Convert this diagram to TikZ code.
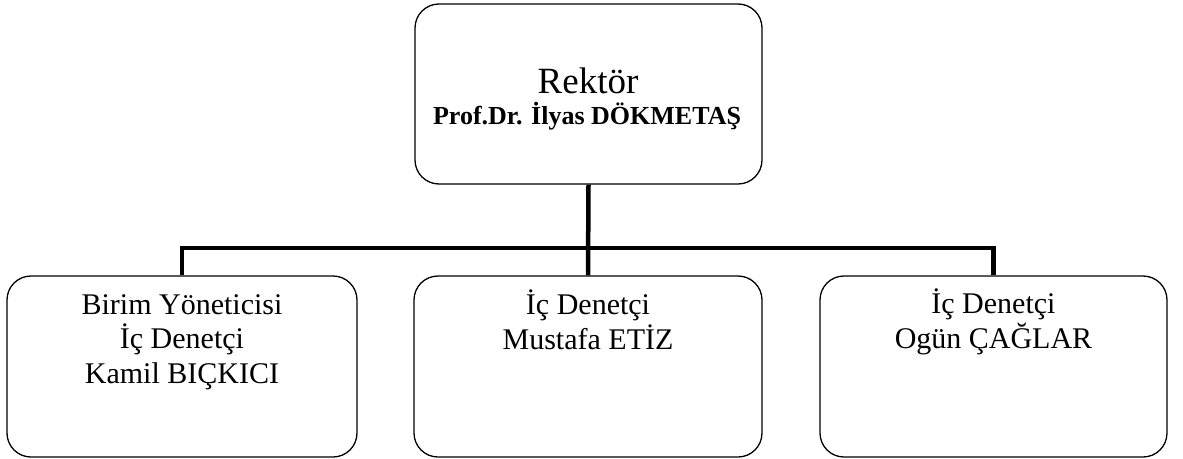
\documentclass[tikz,border=0pt]{standalone}
\usepackage{fontspec}
\setmainfont{Liberation Serif}
\begin{document}
\begin{tikzpicture}[
    x=1pt, y=-1pt,
    unitbox/.style={rectangle, draw, rounded corners=24pt, line width=1.3pt, minimum width=348pt, minimum height=181pt, inner sep=0pt},
    unittext/.style={align=center, inner sep=0pt, anchor=base, font=\fontsize{30}{34.5}\selectfont},
    branch/.style={line width=4.5pt}
]
\useasboundingbox (0,0) rectangle (1183,458);
% boxes
\node[unitbox, minimum height=180pt, minimum width=347pt] (rektor) at (588.5,94) {};
\node[unitbox, minimum width=350pt] (birim) at (182,366.5) {};
\node[unitbox] (etiz) at (588,366.5) {};
\node[unitbox, minimum width=347pt] (ogun) at (993.5,366.5) {};
% texts (base = last line)
\node[unittext, font=\fontsize{37}{37}\selectfont] (rektortitle) at (588,93) {Rektör};
\node[unittext, font=\fontsize{26}{26}\selectfont\bfseries] (rektorname) at (587,124) {Prof.Dr. İlyas DÖKMETAŞ};
\node[unittext] (birimtext) at (182,383) {Birim Yöneticisi\\İç Denetçi\\Kamil BIÇKICI};
\node[unittext] (etiztext) at (588,349) {İç Denetçi\\Mustafa ETİZ};
\node[unittext] (oguntext) at (993.5,348) {İç Denetçi\\Ogün ÇAĞLAR};
% connectors
\coordinate (bus) at (0,248);
\draw[branch] (rektor.south) -- (etiz.north);
\draw[branch] (birim.north) -- (birim.north |- bus) -- (ogun.north |- bus) -- (ogun.north);
\end{tikzpicture}
\end{document}
